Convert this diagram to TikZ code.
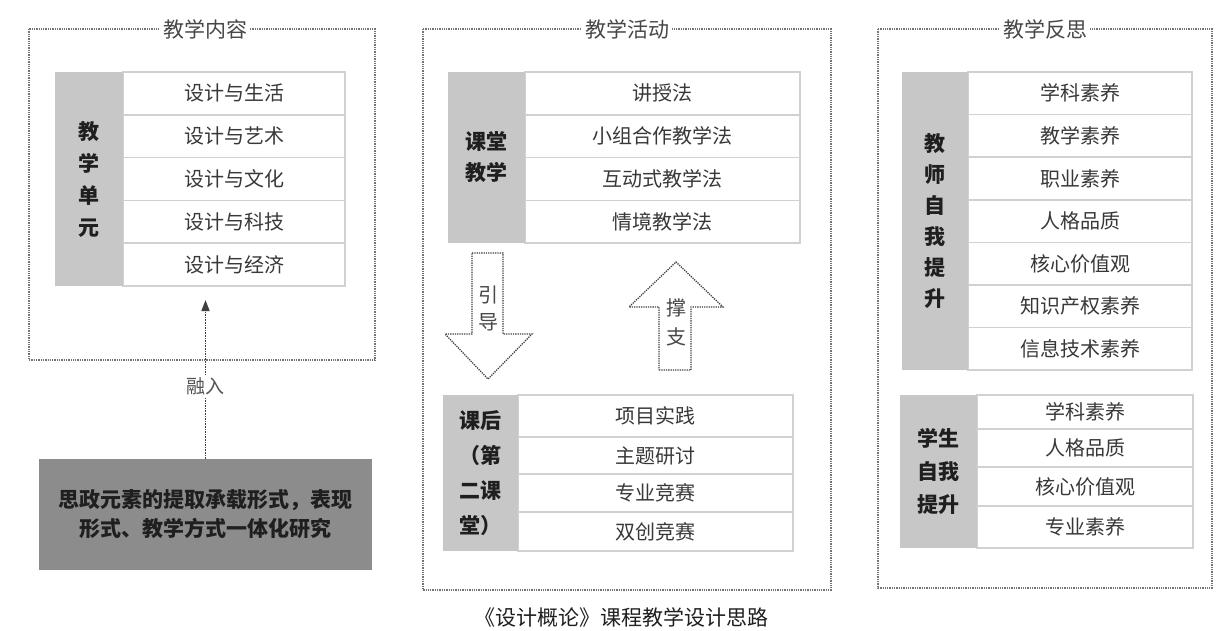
\documentclass[tikz,border=0pt]{standalone}
\usepackage{fontspec}
\newfontfamily\cjk{Noto Sans CJK SC}
\usetikzlibrary{arrows.meta, positioning}

\tikzset{
  panel/.style={draw=black!55, densely dotted, line width=1.3pt},
  ptitle/.style={fill=white, text=black!72, inner sep=3pt, font=\cjk\fontsize{21}{24}\selectfont},
  item/.style={draw=black!18, line width=1.5pt, fill=white, text=black!78, inner sep=0pt, outer sep=0pt,
    font=\cjk\fontsize{20}{24}\selectfont},
  tag/.style={fill=black!22, text=black!88, inner sep=0pt, outer sep=0pt, anchor=north east, align=center,
    font=\cjk\bfseries\fontsize{21}{32}\selectfont},
  bigarrow/.style={draw=black!75, densely dotted, line width=1.3pt, fill=white},
  arrowtext/.style={text=black!72, align=center, font=\cjk\fontsize{20}{27}\selectfont},
}

\begin{document}
\begin{tikzpicture}[x=1pt, y=-1pt, >={Triangle[length=11pt, width=8pt]}]
    \useasboundingbox (0,0) rectangle (1219,630);

    % Frames
    \draw[panel] (29,29) rectangle (375,360);
    \draw[panel] (423,29) rectangle (831,590);
    \draw[panel] (878,29) rectangle (1212,588);
    \node[ptitle] (content) at (205,29) {教学内容};
    \node[ptitle] (activity) at (627,29) {教学活动};
    \node[ptitle] (reflect) at (1045,29) {教学反思};

    % Teaching units
    \node[item, anchor=north west, minimum width=222, minimum height=42.8] (u1) at (123,72) {设计与生活};
    \node[item, minimum width=222, minimum height=42.8] (u2) [below=0pt of u1] {设计与艺术};
    \node[item, minimum width=222, minimum height=42.8] (u3) [below=0pt of u2] {设计与文化};
    \node[item, minimum width=222, minimum height=42.8] (u4) [below=0pt of u3] {设计与科技};
    \node[item, minimum width=222, minimum height=42.8] (u5) [below=0pt of u4] {设计与经济};
    \node[tag, minimum width=68, minimum height=214] (unit) at (u1.north west) {教\\学\\单\\元};

    % Classroom teaching
    \node[item, anchor=north west, minimum width=275, minimum height=42.75] (c1) at (525,72) {讲授法};
    \node[item, minimum width=275, minimum height=42.75] (c2) [below=0pt of c1] {小组合作教学法};
    \node[item, minimum width=275, minimum height=42.75] (c3) [below=0pt of c2] {互动式教学法};
    \node[item, minimum width=275, minimum height=42.75] (c4) [below=0pt of c3] {情境教学法};
    \node[tag, minimum width=77, minimum height=171, font=\cjk\bfseries\fontsize{21}{31}\selectfont] (class) at (c1.north west) {课堂\\教学};

    % After class
    \node[item, anchor=north west, minimum width=275, minimum height=42] (a1) at (518,395) {项目实践};
    \node[item, minimum width=275, minimum height=37] (a2) [below=0pt of a1] {主题研讨};
    \node[item, minimum width=275, minimum height=38] (a3) [below=0pt of a2] {专业竞赛};
    \node[item, minimum width=275, minimum height=39] (a4) [below=0pt of a3] {双创竞赛};
    \node[tag, minimum width=75, minimum height=156, font=\cjk\bfseries\fontsize{21}{35}\selectfont] (after) at (a1.north west) {课后\\（第\\二课\\堂）};

    % Teacher
    \node[item, anchor=north west, minimum width=224, minimum height=42.6] (t1) at (968,72) {学科素养};
    \node[item, minimum width=224, minimum height=42.6] (t2) [below=0pt of t1] {教学素养};
    \node[item, minimum width=224, minimum height=42.6] (t3) [below=0pt of t2] {职业素养};
    \node[item, minimum width=224, minimum height=42.6] (t4) [below=0pt of t3] {人格品质};
    \node[item, minimum width=224, minimum height=42.6] (t5) [below=0pt of t4] {核心价值观};
    \node[item, minimum width=224, minimum height=42.6] (t6) [below=0pt of t5] {知识产权素养};
    \node[item, minimum width=224, minimum height=42.6] (t7) [below=0pt of t6] {信息技术素养};
    \node[tag, minimum width=66, minimum height=298, font=\cjk\bfseries\fontsize{21}{31}\selectfont] (teacher) at (t1.north west) {教\\师\\自\\我\\提\\升};

    % Student
    \node[item, anchor=north west, minimum width=216, minimum height=34] (s1) at (977,395) {学科素养};
    \node[item, minimum width=216, minimum height=38] (s2) [below=0pt of s1] {人格品质};
    \node[item, minimum width=216, minimum height=39] (s3) [below=0pt of s2] {核心价值观};
    \node[item, minimum width=216, minimum height=42] (s4) [below=0pt of s3] {专业素养};
    \node[tag, minimum width=77, minimum height=153, font=\cjk\bfseries\fontsize{21}{33}\selectfont] (student) at (s1.north west) {学生\\自我\\提升};

    % Ideological elements
    \node[fill=black!45, text=black!88, align=center, minimum width=333, minimum height=111,
      font=\cjk\bfseries\fontsize{21}{29}\selectfont] (idea) at (205.5,514.5)
      {思政元素的提取承载形式，表现\\形式、教学方式一体化研究};

    % Fuse into units
    \draw[->, densely dotted, black!75, line width=1.6pt, shorten >=14pt] (idea.north) -- node[pos=0.42, fill=white, text=black!68, inner sep=3pt, font=\cjk\fontsize{19}{22}\selectfont] (fuse) {融入} (idea.north |- u5.south);

    % Block arrows
    \draw[bigarrow] (472,253) -- (503,253) -- (503,334) -- (532,334) -- (488,379) -- (445,334) -- (472,334) -- cycle;
    \node[arrowtext] (guide) at (488,308) {引\\导};
    \draw[bigarrow] (659,370) -- (691,370) -- (691,307) -- (723,307) -- (676,262) -- (629,307) -- (659,307) -- cycle;
    \node[arrowtext, font=\cjk\fontsize{20}{29}\selectfont] (support) at (676,322) {撑\\支};

    % Caption
    \node[text=black!88, font=\cjk\fontsize{21}{24}\selectfont] (caption) at (621,617) {《设计概论》课程教学设计思路};
\end{tikzpicture}
\end{document}
